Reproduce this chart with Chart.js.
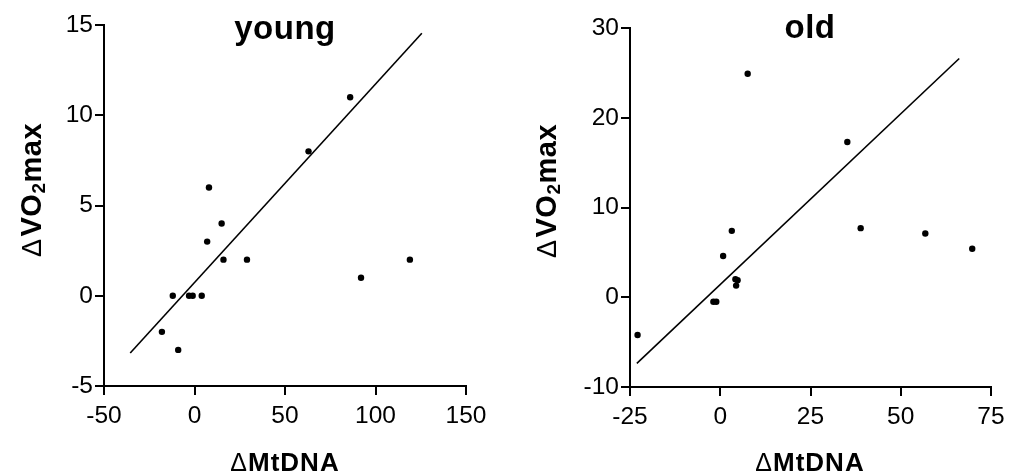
<!DOCTYPE html>
<html>
<head>
<meta charset="utf-8">
<script src="https://cdn.jsdelivr.net/npm/chart.js@4.4.1/dist/chart.umd.min.js"></script>
<style>
  html, body { margin: 0; padding: 0; background: #fff; }
  #wrap { position: relative; width: 1018px; height: 475px; overflow: hidden; }
  .panel { position: absolute; top: 0; width: 509px; height: 475px; }
</style>
</head>
<body>
<div id="wrap">
  <div class="panel" style="left:0"><canvas id="cYoung" width="509" height="475"></canvas></div>
  <div class="panel" style="left:509px"><canvas id="cOld" width="509" height="475"></canvas></div>
</div>
<script>
// ---- data ----
const youngX = [86, 63, 8, 15, 7, 16, 29, 92, 119, -12, -3, -1, 4, -18, -9];
const youngY = [11, 8, 6, 4, 3, 2, 2, 1, 2, 0, 0, 0, 0, -2, -3];
const youngFitX = [-35.5, 125.6];
const youngFitY = [-3.17, 14.54];
const youngXTicks = [-50, 0, 50, 100, 150];
const youngYTicks = [-5, 0, 5, 10, 15];

const oldX = [7.6, 35.2, 3.2, 38.9, 56.8, 69.8, 0.8, 4.2, 4.8, 4.4, -1.9, -1.1, -22.9];
const oldY = [24.9, 17.3, 7.4, 7.7, 7.1, 5.4, 4.6, 2.0, 1.9, 1.3, -0.5, -0.5, -4.2];
const oldFitX = [-23.1, 66.2];
const oldFitY = [-7.36, 26.6];
const oldXTicks = [-25, 0, 25, 50, 75];
const oldYTicks = [-10, 0, 10, 20, 30];

const titles = ['young', 'old'];
const xLabel = { delta: '\u0394', text: 'MtDNA' };
const yLabel = { delta: '\u0394', main: 'VO', sub: '2', tail: 'max' };

const FONT = '"Liberation Sans", Arial, Helvetica, sans-serif';

function pts(xs, ys) { return xs.map((x, i) => ({ x: x, y: ys[i] })); }

function drawSegments(ctx, segs, spacing) {
  let total = 0;
  segs.forEach(s => {
    ctx.font = s.font; ctx.letterSpacing = (s.sp !== undefined ? s.sp : spacing) + 'px';
    s.w = ctx.measureText(s.text).width + (s.gap || 0); total += s.w;
  });
  let x = -total / 2;
  segs.forEach(s => {
    ctx.font = s.font; ctx.letterSpacing = (s.sp !== undefined ? s.sp : spacing) + 'px';
    ctx.fillText(s.text, x, s.dy || 0);
    x += s.w;
  });
}

function labelsPlugin(cfg) {
  return {
    id: 'labels_' + cfg.title,
    afterDraw(chart) {
      const ctx = chart.ctx;
      ctx.save();
      ctx.fillStyle = '#000';
      ctx.textAlign = 'left';
      ctx.textBaseline = 'alphabetic';
      // title
      ctx.save();
      ctx.translate(cfg.titleX, cfg.titleY);
      drawSegments(ctx, [{ text: cfg.title, font: 'bold 33px ' + FONT }], 0.5);
      ctx.restore();
      // x axis label
      ctx.save();
      ctx.translate(cfg.xlX, cfg.xlY);
      drawSegments(ctx, [
        { text: xLabel.delta, font: '25px ' + FONT, gap: 1, sp: 0 },
        { text: xLabel.text, font: 'bold 26px ' + FONT }
      ], 1);
      ctx.restore();
      // y axis label (rotated)
      ctx.save();
      ctx.translate(cfg.ylX, cfg.ylY);
      ctx.rotate(-Math.PI / 2);
      drawSegments(ctx, [
        { text: yLabel.delta, font: '27px ' + FONT, gap: 2 },
        { text: yLabel.main, font: 'bold 29px ' + FONT },
        { text: yLabel.sub, font: 'bold 19px ' + FONT, dy: 4 },
        { text: yLabel.tail, font: 'bold 29px ' + FONT }
      ], 0.5);
      ctx.restore();
      ctx.restore();
    }
  };
}

function makeChart(id, d) {
  const tickFont = { family: FONT, size: 24.5 };
  const axisCommon = {
    type: 'linear',
    grid: { display: true, drawOnChartArea: false, drawTicks: true, tickLength: 9, color: '#000', lineWidth: 2 },
    border: { display: true, color: '#000', width: 2 }
  };
  return new Chart(document.getElementById(id), {
    type: 'scatter',
    data: {
      datasets: [
        {
          data: pts(d.xs, d.ys),
          pointRadius: 3.2,
          pointBackgroundColor: '#000',
          pointBorderColor: '#000',
          pointBorderWidth: 0,
          showLine: false,
          order: 1
        },
        {
          data: pts(d.fitX, d.fitY),
          showLine: true,
          borderColor: '#000',
          borderWidth: 1.6,
          pointRadius: 0,
          fill: false,
          order: 2
        }
      ]
    },
    options: {
      responsive: false,
      animation: false,
      events: [],
      layout: { padding: { left: 0, right: d.padRight, top: d.padTop, bottom: 0 } },
      plugins: { legend: { display: false }, tooltip: { enabled: false }, title: { display: false } },
      scales: {
        x: Object.assign({}, axisCommon, {
          min: d.xTicks[0], max: d.xTicks[d.xTicks.length - 1],
          afterBuildTicks: s => { s.ticks = d.xTicks.map(v => ({ value: v })); },
          afterFit: s => { s.height = d.xAxisH; },
          ticks: { color: '#000', font: tickFont, padding: 7, maxRotation: 0, autoSkip: false }
        }),
        y: Object.assign({}, axisCommon, {
          min: d.yTicks[0], max: d.yTicks[d.yTicks.length - 1],
          afterBuildTicks: s => { s.ticks = d.yTicks.map(v => ({ value: v })); },
          afterFit: s => { s.width = d.yAxisW; },
          ticks: { color: '#000', font: tickFont, padding: 2, autoSkip: false }
        })
      }
    },
    plugins: [labelsPlugin(d.labels)]
  });
}

makeChart('cYoung', {
  xs: youngX, ys: youngY, fitX: youngFitX, fitY: youngFitY,
  xTicks: youngXTicks, yTicks: youngYTicks,
  padRight: 43, padTop: 25, xAxisH: 89, yAxisW: 104,
  labels: { title: titles[0], titleX: 285, titleY: 39, xlX: 285, xlY: 471, ylX: 41, ylY: 190 }
});

makeChart('cOld', {
  xs: oldX, ys: oldY, fitX: oldFitX, fitY: oldFitY,
  xTicks: oldXTicks, yTicks: oldYTicks,
  padRight: 27, padTop: 28, xAxisH: 88, yAxisW: 121,
  labels: { title: titles[1], titleX: 301, titleY: 38, xlX: 301, xlY: 471, ylX: 47, ylY: 191 }
});
</script>
</body>
</html>
